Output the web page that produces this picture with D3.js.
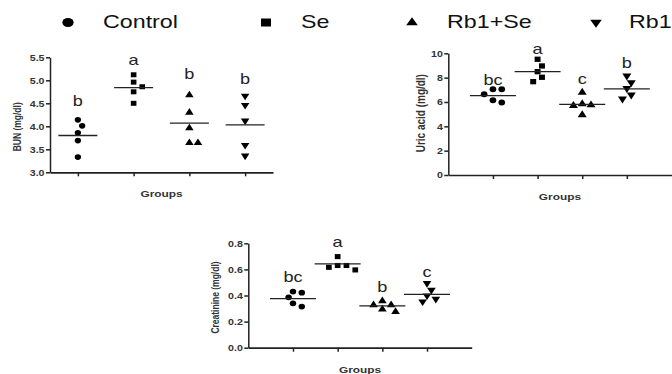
<!DOCTYPE html>
<html><head><meta charset="utf-8">
<script src="https://cdn.jsdelivr.net/npm/d3@7/dist/d3.min.js"></script>
<style>
body{margin:0;background:#fff}
svg{display:block}
text{font-family:"Liberation Sans",Arial,Helvetica,sans-serif}
</style>
</head><body>
<svg id="chart" width="672" height="374"></svg>
<script>
// ---------- DATA ----------
const groups = ["Control", "Se", "Rb1+Se", "Rb1"];

const bunValues = [
  [4.14, 4.01, 3.86, 3.69, 3.33],
  [5.12, 4.96, 4.86, 4.75, 4.50],
  [4.68, 4.30, 3.96, 3.64, 3.64],
  [4.66, 4.46, 4.12, 3.59, 3.36]
];
const bunMeans = [3.80, 4.84, 4.07, 4.03];
const bunLetters = ["b", "a", "b", "b"];
const bunLetterAt = [4.45, 5.33, 5.02, 4.91];
const bunTicks = [3.0, 3.5, 4.0, 4.5, 5.0, 5.5];

const uricValues = [
  [7.04, 7.04, 6.63, 6.14, 5.95],
  [9.51, 8.96, 8.49, 8.03, 7.67],
  [6.79, 5.85, 5.75, 5.70, 4.93],
  [8.14, 7.59, 7.12, 6.58, 6.25]
];
const uricMeans = [6.52, 8.49, 5.81, 7.07];
const uricLetters = ["bc", "a", "c", "b"];
const uricLetterAt = [7.40, 9.94, 7.45, 8.77];
const uricTicks = [0, 2, 4, 6, 8, 10];

const creatValues = [
  [0.430, 0.422, 0.386, 0.340, 0.315],
  [0.698, 0.630, 0.630, 0.616, 0.596],
  [0.358, 0.327, 0.327, 0.294, 0.276],
  [0.494, 0.442, 0.399, 0.373, 0.353]
];
const creatMeans = [0.376, 0.642, 0.320, 0.409];
const creatLetters = ["bc", "a", "b", "c"];
const creatLetterAt = [0.506, 0.775, 0.429, 0.544];
const creatTicks = [0.0, 0.2, 0.4, 0.6, 0.8];

// ---------- LAYOUT ----------
const SX = 1.25; // horizontal stretch of the original figure
const svg = d3.select("#chart");
const ink = "#222";
const textInk = "#333";

const symbolTypes = [d3.symbolCircle, d3.symbolSquare, d3.symbolTriangle, d3.symbolTriangle];
const symbolRot = [0, 0, 0, 180];
const legendSizes = [64, 64, 37, 37];

function symbolPath(i, size) {
  return d3.symbol().type(symbolTypes[i]).size(size)();
}

// Legend
const legendX = [68, 266, 412, 596];
const legend = svg.append("g");
groups.forEach((g, i) => {
  legend.append("path")
    .attr("d", symbolPath(i, legendSizes[i]))
    .attr("transform", `translate(${legendX[i]},22.5) scale(${SX},1) rotate(${symbolRot[i]})`)
    .attr("fill", "#000");
  legend.append("text")
    .attr("transform", `translate(${legendX[i] + (i === 3 ? 33 : 35)},28.3) scale(${SX},1)`)
    .attr("font-size", 18.6)
    .attr("fill", "#111")
    .text(g);
});

function panel(cfg, values, means, letters, letterAt, ticks, fmt, yLabel) {
  const g = svg.append("g");
  const x = d3.scalePoint().domain(groups).range([cfg.x0, cfg.x1]).padding(cfg.pad);
  const y = d3.scaleLinear().domain(cfg.domain).range([cfg.yb, cfg.yt]);

  // y axis
  const ya = g.append("g").attr("transform", `translate(${cfg.x0},0)`)
    .call(d3.axisLeft(y).tickValues(ticks).tickFormat(d3.format(fmt)).tickSize(4).tickSizeOuter(0).tickPadding(1));
  ya.selectAll("path,line").attr("stroke", ink).attr("stroke-width", 1.5);
  ya.selectAll("text")
    .attr("font-size", 8.5).attr("font-weight", "bold").attr("fill", textInk)
    .attr("font-family", "Liberation Sans, Arial, sans-serif")
    .attr("transform", `scale(${SX},1)`)
    .attr("x", -5.5 / SX);

  // x axis
  const xa = g.append("g").attr("transform", `translate(0,${cfg.yb})`)
    .call(d3.axisBottom(x).tickFormat("").tickSize(4).tickSizeOuter(0));
  xa.selectAll("path,line").attr("stroke", ink).attr("stroke-width", 1.5);
  xa.select(".domain").attr("stroke-width", 1.7);

  // points with simple collision dodge
  const step = cfg.step, minD = cfg.minD;
  values.forEach((vals, gi) => {
    const placed = [];
    vals.forEach(v => {
      const py = y(v);
      let off = 0;
      for (let k = 0; k < 20; k++) {
        const cand = k === 0 ? 0 : (k % 2 ? 1 : -1) * Math.ceil(k / 2) * step;
        const ok = placed.every(p => Math.hypot(p[0] - cand, p[1] - py) >= minD);
        if (ok) { off = cand; break; }
      }
      placed.push([off, py]);
      g.append("path")
        .attr("d", symbolPath(gi, cfg.msize))
        .attr("transform", `translate(${x(groups[gi]) + off},${py}) scale(1.12,1) rotate(${symbolRot[gi]})`)
        .attr("fill", "#000");
    });
    // mean line
    g.append("line")
      .attr("x1", x(groups[gi]) - cfg.half).attr("x2", x(groups[gi]) + cfg.half)
      .attr("y1", y(means[gi])).attr("y2", y(means[gi]))
      .attr("stroke", ink).attr("stroke-width", 1.3);
    // letter
    g.append("text")
      .attr("transform", `translate(${x(groups[gi])},${y(letterAt[gi])}) scale(${SX},1)`)
      .attr("text-anchor", "middle")
      .attr("font-size", 14.5)
      .attr("fill", "#222")
      .text(letters[gi]);
  });

  // y label (glyph height stretched horizontally like the original)
  g.append("text")
    .attr("transform", `translate(${cfg.x0 - cfg.ylOff},${(cfg.yt + cfg.yb) / 2 + cfg.ylDy}) rotate(-90) scale(1,${SX})`)
    .attr("text-anchor", "middle")
    .attr("dy", "0.35em")
    .attr("font-size", cfg.ylSize)
    .attr("font-weight", "bold")
    .attr("fill", textInk)
    .text(yLabel);

  // x label
  g.append("text")
    .attr("transform", `translate(${(cfg.x0 + cfg.x1) / 2},${cfg.yb + 25}) scale(${SX},1)`)
    .attr("text-anchor", "middle")
    .attr("font-size", 9.5)
    .attr("font-weight", "bold")
    .attr("fill", textInk)
    .text("Groups");
}

panel({x0: 50, x1: 273, yt: 57.3, yb: 172.3, domain: [3, 5.5], pad: 0.5, half: 19.5,
       step: 4.3, minD: 6.5, msize: 25, ylOff: 32.5, ylDy: 12, ylSize: 8.5},
      bunValues, bunMeans, bunLetters, bunLetterAt, bunTicks, ".1f", "BUN (mg/dl)");

panel({x0: 448.3, x1: 671.5, yt: 53.3, yb: 175, domain: [0, 10], pad: 1, half: 23,
       step: 4.4, minD: 7, msize: 28, ylOff: 28, ylDy: -1, ylSize: 10},
      uricValues, uricMeans, uricLetters, uricLetterAt, uricTicks, "d", "Uric acid (mg/dl)");

panel({x0: 248.3, x1: 471.7, yt: 243.3, yb: 347.7, domain: [0, 0.8], pad: 1, half: 23,
       step: 4.4, minD: 7, msize: 26, ylOff: 33, ylDy: 2, ylSize: 8.5},
      creatValues, creatMeans, creatLetters, creatLetterAt, creatTicks, ".1f", "Creatinine (mg/dl)");
</script>
</body></html>
